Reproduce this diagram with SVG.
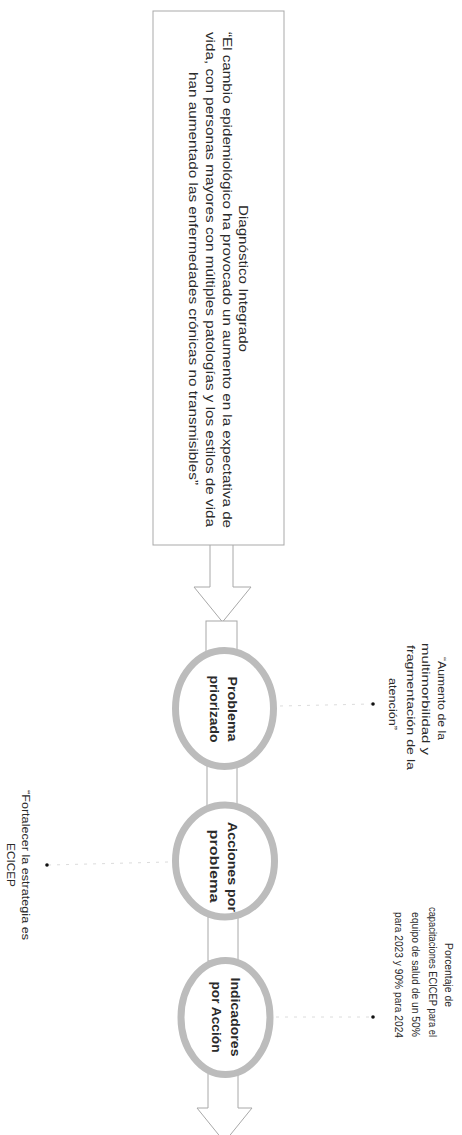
<svg xmlns="http://www.w3.org/2000/svg" width="462" height="1135" viewBox="0 0 462 1135">
<style>
.t{font-family:"Liberation Sans",Arial,sans-serif;fill:#2a2a2a;text-anchor:middle}
.box{font-size:12.5px}
.c{font-size:12.5px;font-weight:bold}
.lab{font-size:10.5px}
.ring{fill:#fff;stroke:#bcbcbc;stroke-width:7}
.link{fill:#fff;stroke:#a8a8a8;stroke-width:1}
.faint{stroke:#dcdcdc;stroke-width:1;stroke-dasharray:3 6;fill:none}
.dot{fill:#111}
</style>
<rect width="462" height="1135" fill="#fff"/>
<g id="connectors">
<path class="link" d="M210,545 V587 H194 L222.5,622 L251,587 H233 V545"/>
<rect class="link" x="206" y="621" width="31" height="32"/>
<rect class="link" x="207" y="766" width="30" height="40"/>
<rect class="link" x="208" y="917" width="30" height="44"/>
<path class="link" d="M208,1074 V1108 H197 L224.5,1142 L252,1108 H238 V1074"/>
<line class="faint" x1="280" y1="706" x2="371" y2="704"/>
<line class="faint" x1="276" y1="1017" x2="371" y2="1017"/>
<line class="faint" x1="168" y1="862" x2="49" y2="865"/>
</g>
<g id="diagnostico">
<rect x="153" y="11" width="131" height="534" fill="#fff" stroke="#a9a9a9" stroke-width="1"/>
<text class="t box" transform="translate(239,278.5) rotate(90)" textLength="147" lengthAdjust="spacingAndGlyphs">Diagnóstico Integrado</text>
<text class="t box" transform="translate(223,280) rotate(90)" textLength="496" lengthAdjust="spacingAndGlyphs">“El cambio epidemiológico ha provocado un aumento en la expectativa de</text>
<text class="t box" transform="translate(206,279.5) rotate(90)" textLength="495" lengthAdjust="spacingAndGlyphs">vida, con personas mayores con múltiples patologías y los estilos de vida</text>
<text class="t box" transform="translate(189,278.5) rotate(90)" textLength="413" lengthAdjust="spacingAndGlyphs">han aumentado las enfermedades crónicas no transmisibles”</text>
</g>
<g id="problema">
<ellipse class="ring" cx="224.5" cy="708.5" rx="49" ry="58"/>
<text class="t c" transform="translate(228,709) rotate(90)" textLength="65" lengthAdjust="spacingAndGlyphs">Problema</text>
<text class="t c" transform="translate(210,709) rotate(90)" textLength="67" lengthAdjust="spacingAndGlyphs">priorizado</text>
</g>
<g id="acciones">
<ellipse class="ring" cx="225" cy="861" rx="49.5" ry="56"/>
<text class="t c" transform="translate(228,867) rotate(90)" textLength="90" lengthAdjust="spacingAndGlyphs">Acciones por</text>
<text class="t c" transform="translate(210,866) rotate(90)" textLength="73" lengthAdjust="spacingAndGlyphs">problema</text>
</g>
<g id="indicadores">
<ellipse class="ring" cx="225.5" cy="1017.5" rx="44.5" ry="57"/>
<text class="t c" transform="translate(231,1017) rotate(90)" textLength="79" lengthAdjust="spacingAndGlyphs">Indicadores</text>
<text class="t c" transform="translate(212,1017) rotate(90)" textLength="71" lengthAdjust="spacingAndGlyphs">por Acción</text>
</g>
<g id="label-problema">
<circle class="dot" cx="373" cy="704" r="1.8"/>
<text class="t lab" transform="translate(437.5,698.5) rotate(90)" textLength="83" lengthAdjust="spacingAndGlyphs">“Aumento de la</text>
<text class="t lab" transform="translate(421.5,699) rotate(90)" textLength="112" lengthAdjust="spacingAndGlyphs">multimorbilidad y</text>
<text class="t lab" transform="translate(406.5,707.5) rotate(90)" textLength="125" lengthAdjust="spacingAndGlyphs">fragmentación de la</text>
<text class="t lab" transform="translate(388.5,704) rotate(90)" textLength="52" lengthAdjust="spacingAndGlyphs">atención”</text>
</g>
<g id="label-indicadores">
<circle class="dot" cx="373" cy="1017" r="1.8"/>
<text class="t lab" transform="translate(444.5,975) rotate(90)" textLength="64" lengthAdjust="spacingAndGlyphs">Porcentaje de</text>
<text class="t lab" transform="translate(428.5,972) rotate(90)" textLength="130" lengthAdjust="spacingAndGlyphs">capacitaciones  ECICEP para el</text>
<text class="t lab" transform="translate(411.5,974.5) rotate(90)" textLength="125" lengthAdjust="spacingAndGlyphs">equipo de salud de un 50%</text>
<text class="t lab" transform="translate(394.5,975) rotate(90)" textLength="126" lengthAdjust="spacingAndGlyphs">para 2023 y 90% para 2024</text>
</g>
<g id="label-acciones">
<circle class="dot" cx="47" cy="865" r="1.8"/>
<text class="t lab" transform="translate(21.5,865) rotate(90)" textLength="150" lengthAdjust="spacingAndGlyphs">“Fortalecer la estrategia es</text>
<text class="t lab" transform="translate(6.5,865) rotate(90)" textLength="44" lengthAdjust="spacingAndGlyphs">ECICEP</text>
</g>
</svg>
